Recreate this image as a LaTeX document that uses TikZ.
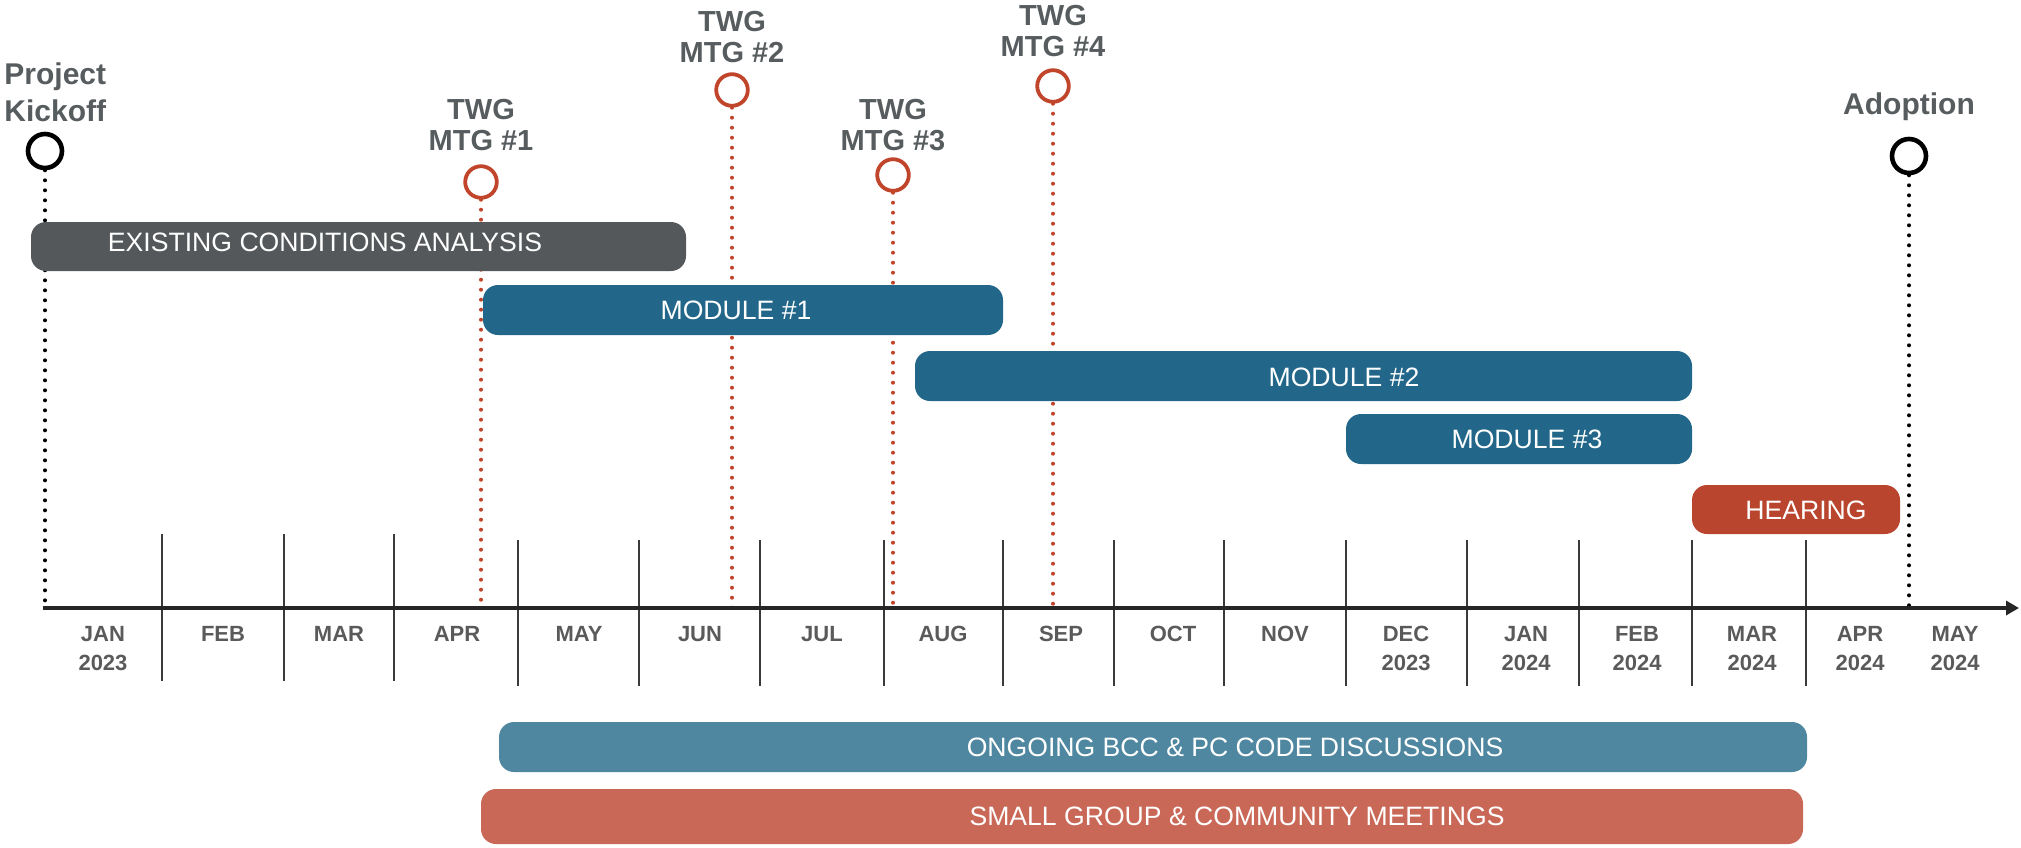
\documentclass[tikz,border=0pt]{standalone}
\usepackage{fontspec}
\setmainfont{Liberation Sans}
\usetikzlibrary{arrows.meta}

\definecolor{lbl}{HTML}{575C5F}
\definecolor{mon}{HTML}{5A5A5A}
\definecolor{tk}{HTML}{3A3A3A}
\definecolor{axis}{HTML}{262626}
\definecolor{twg}{HTML}{C0452B}
\definecolor{greybar}{HTML}{54585A}
\definecolor{tealbar}{HTML}{22678A}
\definecolor{hearbar}{HTML}{BA452F}
\definecolor{ongoing}{HTML}{4E879F}
\definecolor{smallgrp}{HTML}{C96857}

\begin{document}
\begin{tikzpicture}[x=0.5pt,y=-0.5pt,
  every node/.style={inner sep=0pt},
  milestone/.style={circle, draw=#1, line width=1.9pt, minimum size=15.8pt, fill=white},
  keymilestone/.style={circle, draw=black, line width=2.3pt, minimum size=17pt, fill=white},
  mslabel/.style={align=center, text=lbl, font=\bfseries\fontsize{14.5}{15.5}\selectfont},
  dotline/.style={draw=#1, line width=2pt, line cap=round, dash pattern=on 0pt off 5pt},
  barshape/.style={fill=#1, rounded corners=7.5pt},
  bartext/.style={text=white, font=\fontsize{13.3}{16}\selectfont},
  monthlabel/.style={anchor=north, align=center, text=mon, font=\bfseries\fontsize{11}{14.5}\selectfont},
  monthtick/.style={draw=tk, line width=0.75pt},
  axisline/.style={draw=axis, line width=1.6pt, -{Triangle[length=6.5pt,width=7pt]}}
]
\useasboundingbox (0,0) rectangle (2021,847);

% milestone markers
\node[keymilestone] (kick) at (45,151) {};
\node[milestone=twg] (twg1) at (481,182) {};
\node[milestone=twg] (twg2) at (732,90) {};
\node[milestone=twg] (twg3) at (893,175) {};
\node[milestone=twg] (twg4) at (1053,86) {};
\node[keymilestone] (adopt) at (1909,156) {};

% points where the drop lines meet the time axis
\coordinate (kickA) at (45,608);
\coordinate (twg1A) at (481,608);
\coordinate (twg2A) at (732,608);
\coordinate (twg3A) at (893,608);
\coordinate (twg4A) at (1053,608);
\coordinate (adoptA) at (1909,608);

% dotted drop lines
\draw[dotline=black] (kick.south) -- (kickA);
\draw[dotline=twg] (twg1.south) -- (twg1A);
\draw[dotline=twg] (twg2.south) -- (twg2A);
\draw[dotline=twg] (twg3.south) -- (twg3A);
\draw[dotline=twg] (twg4.south) -- (twg4A);
\draw[dotline=black] (adopt.south) -- (adoptA);

% milestone labels
\node[mslabel, align=left, anchor=west, font=\bfseries\fontsize{15}{18.5}\selectfont] (kickL) at (4,92) {Project\\Kickoff};
\node[mslabel] (twg1L) at (481,125) {TWG\\MTG \#1};
\node[mslabel] (twg2L) at (732,37) {TWG\\MTG \#2};
\node[mslabel] (twg3L) at (893,125) {TWG\\MTG \#3};
\node[mslabel] (twg4L) at (1053,31) {TWG\\MTG \#4};
\node[mslabel, font=\bfseries\fontsize{15}{18.5}\selectfont] (adoptL) at (1909,107) {Adoption};

% task bars
\fill[barshape=greybar] (31,222) rectangle (686,271);
\node[bartext] (exist) at (325,242) {EXISTING CONDITIONS ANALYSIS};
\fill[barshape=tealbar] (483,285) rectangle (1003,335);
\node[bartext] (mod1) at (736,310) {MODULE \#1};
\fill[barshape=tealbar] (915,351) rectangle (1692,401);
\node[bartext] (mod2) at (1344,377) {MODULE \#2};
\fill[barshape=tealbar] (1346,414) rectangle (1692,464);
\node[bartext] (mod3) at (1527,439) {MODULE \#3};
\fill[barshape=hearbar] (1692,485) rectangle (1900,534);
\node[bartext] (hear) at (1806,510) {HEARING};
\fill[barshape=ongoing] (499,722) rectangle (1807,772);
\node[bartext] (ongo) at (1235,747) {ONGOING BCC \& PC CODE DISCUSSIONS};
\fill[barshape=smallgrp] (481,789) rectangle (1803,844);
\node[bartext] (small) at (1237,816) {SMALL GROUP \& COMMUNITY MEETINGS};

% month separators
\foreach \tx/\ta/\tb in {162/534/681, 284/534/681, 394/534/681, 518/540/686, 639/540/686,
  760/540/686, 884/540/686, 1003/540/686, 1114/540/686, 1224/540/686, 1346/540/686,
  1467/540/686, 1579/540/686, 1692/540/686, 1806/540/686}
  \draw[monthtick] (\tx,\ta) -- (\tx,\tb);

% time axis
\coordinate (ax0) at (43,608);
\coordinate (ax1) at (2019,608);
\draw[axisline] (ax0) -- (ax1);

% month labels
\node[monthlabel] (m1) at (103,626) {JAN\\2023};
\node[monthlabel] (m2) at (223,626) {FEB};
\node[monthlabel] (m3) at (339,626) {MAR};
\node[monthlabel] (m4) at (457,626) {APR};
\node[monthlabel] (m5) at (579,626) {MAY};
\node[monthlabel] (m6) at (700,626) {JUN};
\node[monthlabel] (m7) at (822,626) {JUL};
\node[monthlabel] (m8) at (943,626) {AUG};
\node[monthlabel] (m9) at (1061,626) {SEP};
\node[monthlabel] (m10) at (1173,626) {OCT};
\node[monthlabel] (m11) at (1285,626) {NOV};
\node[monthlabel] (m12) at (1406,626) {DEC\\2023};
\node[monthlabel] (m13) at (1526,626) {JAN\\2024};
\node[monthlabel] (m14) at (1637,626) {FEB\\2024};
\node[monthlabel] (m15) at (1752,626) {MAR\\2024};
\node[monthlabel] (m16) at (1860,626) {APR\\2024};
\node[monthlabel] (m17) at (1955,626) {MAY\\2024};
\end{tikzpicture}
\end{document}
